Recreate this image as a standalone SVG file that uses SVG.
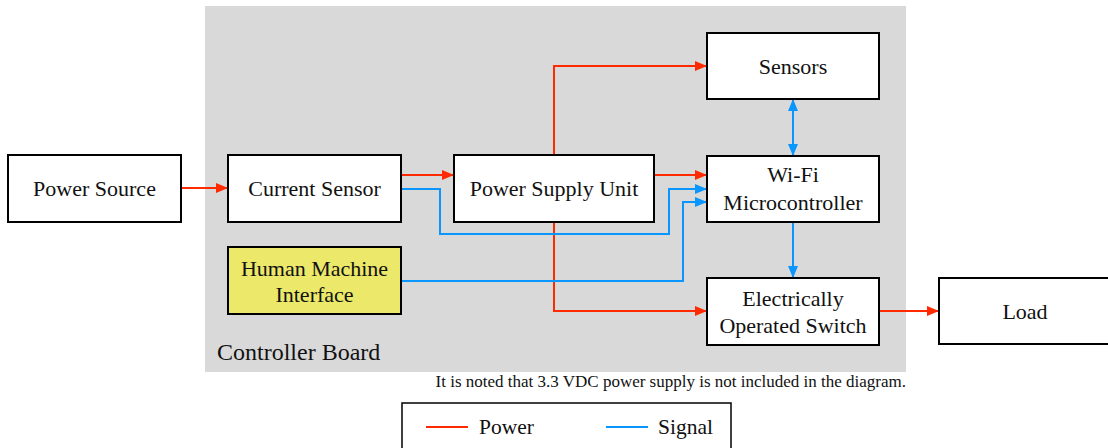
<svg xmlns="http://www.w3.org/2000/svg" width="1108" height="448" viewBox="0 0 1108 448">
<style>
.box{fill:#fff;stroke:#000;stroke-width:2}
.hmi{fill:#ece86a;stroke:#000;stroke-width:2}
.t{font-family:"Liberation Serif",serif;font-size:22px;fill:#111;text-anchor:middle}
.p{fill:none;stroke:#ff2a00;stroke-width:2}
.s{fill:none;stroke:#0a96ff;stroke-width:2}
</style>
<defs>
<marker id="ar" viewBox="0 0 12 10" refX="12" refY="5" markerWidth="12" markerHeight="10" markerUnits="userSpaceOnUse" orient="auto"><path d="M0,0L12,5L0,10z" fill="#ff2a00"/></marker>
<marker id="ab" viewBox="0 0 12 10" refX="12" refY="5" markerWidth="12" markerHeight="10" markerUnits="userSpaceOnUse" orient="auto-start-reverse"><path d="M0,0L12,5L0,10z" fill="#0a96ff"/></marker>
</defs>
<rect x="205" y="6" width="701" height="366" fill="#d9d9d9"/>
<text x="217" y="360" style="font-family:'Liberation Serif',serif;font-size:24px;fill:#111">Controller Board</text>
<g id="connectors">
<path class="p" d="M181,188H228" marker-end="url(#ar)"/>
<path class="p" d="M401,175H454" marker-end="url(#ar)"/>
<path class="p" d="M654,175H707" marker-end="url(#ar)"/>
<path class="p" d="M554,155V66H707" marker-end="url(#ar)"/>
<path class="p" d="M554,222V311H707" marker-end="url(#ar)"/>
<path class="p" d="M879,311H939" marker-end="url(#ar)"/>
<path class="s" d="M401,189H440V234H669V189H707" marker-end="url(#ab)"/>
<path class="s" d="M401,281H683V202H707" marker-end="url(#ab)"/>
<path class="s" d="M793,99V156" marker-start="url(#ab)" marker-end="url(#ab)"/>
<path class="s" d="M793,222V278" marker-end="url(#ab)"/>
</g>
<g id="power-source"><rect class="box" x="8" y="155" width="173" height="67"/><text class="t" x="94.5" y="196">Power Source</text></g>
<g id="current-sensor"><rect class="box" x="228" y="155" width="173" height="67"/><text class="t" x="314.5" y="196">Current Sensor</text></g>
<g id="psu"><rect class="box" x="454" y="155" width="200" height="67"/><text class="t" x="554" y="196">Power Supply Unit</text></g>
<g id="sensors"><rect class="box" x="707" y="33" width="172" height="66"/><text class="t" x="793" y="74">Sensors</text></g>
<g id="wifi"><rect class="box" x="707" y="156" width="172" height="66"/><text class="t" x="793" y="182">Wi-Fi</text><text class="t" x="793" y="210">Microcontroller</text></g>
<g id="hmi"><rect class="hmi" x="228" y="247" width="173" height="67"/><text class="t" x="314.5" y="276">Human Machine</text><text class="t" x="314.5" y="302">Interface</text></g>
<g id="switch"><rect class="box" x="707" y="278" width="172" height="67"/><text class="t" x="793" y="306">Electrically</text><text class="t" x="793" y="333">Operated Switch</text></g>
<g id="load"><rect class="box" x="939" y="278" width="172" height="66"/><text class="t" x="1025" y="319">Load</text></g>
<text x="906" y="387" style="font-family:'Liberation Serif',serif;font-size:17px;fill:#111;text-anchor:end">It is noted that 3.3 VDC power supply is not included in the diagram.</text>
<g id="legend">
<rect x="402" y="403" width="329" height="50" fill="#fff" stroke="#000" stroke-width="1.5"/>
<line x1="426" y1="427" x2="468" y2="427" stroke="#ff2a00" stroke-width="2"/>
<text x="479" y="434" style="font-family:'Liberation Serif',serif;font-size:21.5px;fill:#111">Power</text>
<line x1="606" y1="427" x2="648" y2="427" stroke="#0a96ff" stroke-width="2"/>
<text x="658" y="434" style="font-family:'Liberation Serif',serif;font-size:21.5px;fill:#111">Signal</text>
</g>
</svg>
